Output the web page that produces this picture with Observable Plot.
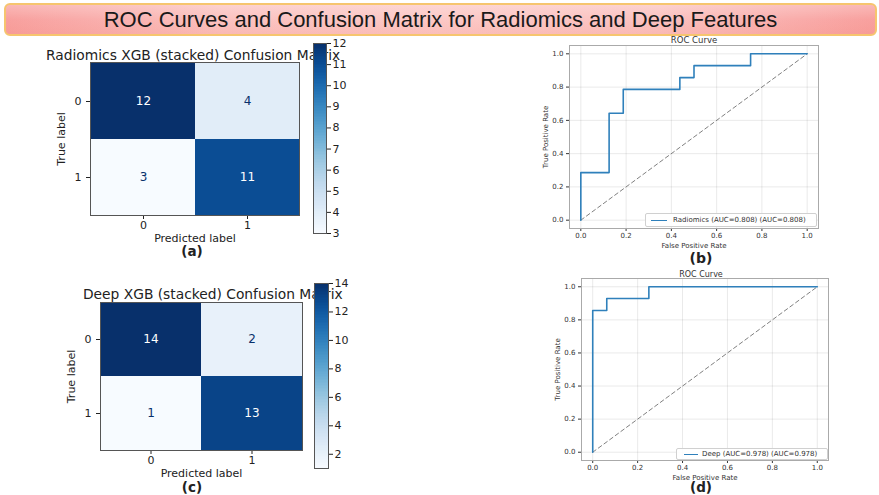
<!DOCTYPE html>
<html>
<head>
<meta charset="utf-8">
<script src="https://cdn.jsdelivr.net/npm/d3@7"></script>
<script src="https://cdn.jsdelivr.net/npm/@observablehq/plot@0.6"></script>
<style>
  html, body { margin: 0; padding: 0; }
  body { width: 879px; height: 495px; background: #fff; position: relative; overflow: hidden; font-family: "DejaVu Sans", sans-serif; color: #222; }
  .abs { position: absolute; }
  #banner { left: 4px; top: 3px; width: 869px; height: 29px; border: 2px solid #f6c56e; border-radius: 6px;
            background: linear-gradient(to bottom, rgba(255,255,255,0.25), rgba(255,255,255,0) 50%, rgba(240,120,100,0.12)),
                        linear-gradient(to right, #f8a09e 0%, #fbc2c0 25%, #fcc8c6 50%, #fbc2c0 75%, #f8a09e 100%);
            font-family: "Liberation Sans", Arial, sans-serif; font-size: 22px; line-height: 29px; text-align: center; color: #1a1a1a; }
  .ctr { transform: translate(-50%, -50%); white-space: nowrap; }
  .tl { white-space: nowrap; }
  .lg { border: 1px solid #d0d0d0; border-radius: 2px; background: rgba(255,255,255,0.9); box-sizing: border-box; }
  .lg span.ln { position: absolute; height: 0; border-top: 1.6px solid #2f80bb; }
  .lg span.tx { position: absolute; font-size: 7px; color: #333; white-space: nowrap; }
</style>
</head>
<body>
<div id="banner" class="abs">ROC Curves and Confusion Matrix for Radiomics and Deep Features</div>
<script>
// ---------------- data ----------------
const classLabels = ["0", "1"];
const radiomicsMatrix = [[12, 4], [3, 11]];
const deepMatrix = [[14, 2], [1, 13]];
const radiomicsBarTicks = [3, 4, 5, 6, 7, 8, 9, 10, 11, 12];
const deepBarTicks = [2, 4, 6, 8, 10, 12, 14];

const radiomicsFPR = [0, 0, 0.125, 0.125, 0.1875, 0.1875, 0.4375, 0.4375, 0.5, 0.5, 0.75, 0.75, 1];
const radiomicsTPR = [0, 0.286, 0.286, 0.643, 0.643, 0.786, 0.786, 0.857, 0.857, 0.929, 0.929, 1, 1];
const deepFPR = [0, 0, 0.0625, 0.0625, 0.25, 0.25, 1];
const deepTPR = [0, 0.857, 0.857, 0.929, 0.929, 1, 1];
const chanceLine = [0, 1];
const rocTicks = [0, 0.2, 0.4, 0.6, 0.8, 1.0];
const radiomicsLegend = "Radiomics (AUC=0.808) (AUC=0.808)";
const deepLegend = "Deep (AUC=0.978) (AUC=0.978)";

// ---------------- helpers ----------------
function place(node, left, top) {
  const d = document.createElement("div");
  d.className = "abs";
  d.style.left = left + "px";
  d.style.top = top + "px";
  d.appendChild(node);
  document.body.appendChild(d);
  return d;
}
function textAt(txt, x, y, css, cls = "ctr") {
  const d = document.createElement("div");
  d.className = "abs " + cls;
  d.textContent = txt;
  d.style.left = x + "px";
  d.style.top = y + "px";
  Object.assign(d.style, css || {});
  document.body.appendChild(d);
  return d;
}
const baseStyle = { fontFamily: "DejaVu Sans", background: "transparent", color: "#222", overflow: "visible" };

function confusionMatrix(matrix, g) {
  const cells = matrix.flatMap((row, i) => row.map((v, j) => ({ t: classLabels[i], p: classLabels[j], v })));
  const lo = d3.min(cells, d => d.v), hi = d3.max(cells, d => d.v);
  const thr = (lo + hi) / 2;
  return Plot.plot({
    width: g.width, height: g.height,
    marginLeft: g.ml, marginRight: g.mr, marginTop: g.mt, marginBottom: g.mb,
    style: { ...baseStyle, fontSize: "11px" },
    x: { domain: classLabels, padding: 0, label: "Predicted label", labelAnchor: "center", labelOffset: 26, tickSize: 4, tickPadding: 2, labelArrow: "none" },
    y: { domain: classLabels, padding: 0, label: "True label", labelAnchor: "center", labelOffset: 33, tickSize: 4, tickPadding: 5, labelArrow: "none" },
    color: { type: "linear", scheme: "blues", domain: [lo, hi] },
    marks: [
      Plot.cell(cells, { x: "p", y: "t", fill: "v", inset: 0 }),
      Plot.text(cells.filter(d => d.v > thr), { x: "p", y: "t", text: d => String(d.v), fill: "white", fontSize: 12 }),
      Plot.text(cells.filter(d => d.v <= thr), { x: "p", y: "t", text: d => String(d.v), fill: "#08306b", fontSize: 12 }),
      Plot.frame({ stroke: "#555" })
    ]
  });
}

function colorBar(matrix, ticks, g) {
  const vals = matrix.flat();
  const lo = d3.min(vals), hi = d3.max(vals);
  const n = 120;
  const step = (hi - lo) / n;
  const strips = d3.range(n).map(i => lo + i * step);
  return Plot.plot({
    width: g.width, height: g.height,
    marginLeft: g.ml, marginRight: g.mr, marginTop: g.mt, marginBottom: g.mb,
    style: { ...baseStyle, fontSize: "11px" },
    x: { axis: null },
    y: { domain: [lo, hi], axis: "right", ticks: ticks, tickFormat: d => String(d), tickSize: 4, tickPadding: 2, label: null },
    color: { type: "linear", scheme: "blues", domain: [lo, hi] },
    marks: [
      Plot.rect(strips, { y1: d => d, y2: d => Math.min(hi, d + step * 1.6), fill: d => d + step / 2, shapeRendering: "crispEdges" }),
      Plot.frame({ stroke: "#555" })
    ]
  });
}

function rocPlot(fpr, tpr, g) {
  const pts = fpr.map((x, i) => ({ x, y: tpr[i] }));
  const diag = chanceLine.map(v => ({ x: v, y: v }));
  return Plot.plot({
    width: g.width, height: g.height,
    marginLeft: g.ml, marginRight: g.mr, marginTop: g.mt, marginBottom: g.mb,
    style: { ...baseStyle, fontSize: "7px", color: "#333" },
    x: { domain: [-0.05, 1.05], ticks: rocTicks, tickFormat: ".1f", tickSize: 3, tickPadding: 2, grid: true,
         label: "False Positive Rate", labelAnchor: "center", labelOffset: 19, labelArrow: "none" },
    y: { domain: [-0.05, 1.05], ticks: rocTicks, tickFormat: ".1f", tickSize: 3, tickPadding: 3, grid: true,
         label: "True Positive Rate", labelAnchor: "center", labelOffset: 26, labelArrow: "none" },
    marks: [
      Plot.frame({ stroke: "#aaa" }),
      Plot.line(diag, { x: "x", y: "y", stroke: "#808080", strokeWidth: 1, strokeDasharray: "4,3" }),
      Plot.line(pts, { x: "x", y: "y", stroke: "#2f80bb", strokeWidth: 1.6 })
    ]
  });
}

function legend(txt, box) {
  const d = document.createElement("div");
  d.className = "abs lg";
  d.style.left = box.x + "px"; d.style.top = box.y + "px";
  d.style.width = box.w + "px"; d.style.height = box.h + "px";
  const ln = document.createElement("span");
  ln.className = "ln";
  ln.style.left = box.lx + "px"; ln.style.width = box.lw + "px"; ln.style.top = (box.h / 2 - 1.5) + "px";
  const tx = document.createElement("span");
  tx.className = "tx";
  tx.textContent = txt;
  tx.style.left = box.tx + "px"; tx.style.top = (box.h / 2 - 5.5) + "px";
  d.appendChild(ln); d.appendChild(tx);
  document.body.appendChild(d);
}

// ---------------- panel (a) ----------------
textAt("Radiomics XGB (stacked) Confusion Matrix", 46, 47, { fontSize: "13.8px" }, "tl");
place(confusionMatrix(radiomicsMatrix, { width: 275, height: 215, ml: 60, mr: 6, mt: 22, mb: 40 }), 30, 40);
place(colorBar(radiomicsMatrix, radiomicsBarTicks, { width: 50, height: 205, ml: 8, mr: 29, mt: 8, mb: 7 }), 305, 35);
textAt("(a)", 192, 251, { fontSize: "13.5px", fontWeight: "bold" });

// ---------------- panel (c) ----------------
textAt("Deep XGB (stacked) Confusion Matrix", 83, 286, { fontSize: "13.8px" }, "tl");
place(confusionMatrix(deepMatrix, { width: 278, height: 210, ml: 70, mr: 6, mt: 22, mb: 40 }), 30, 280);
place(colorBar(deepMatrix, deepBarTicks, { width: 50, height: 200, ml: 8, mr: 28, mt: 8, mb: 7 }), 306, 275);
textAt("(c)", 192, 487, { fontSize: "13.5px", fontWeight: "bold" });

// ---------------- panel (b) ----------------
textAt("ROC Curve", 694, 40, { fontSize: "8.5px", color: "#333" });
place(rocPlot(radiomicsFPR, radiomicsTPR, { width: 292, height: 225, ml: 39, mr: 4, mt: 15, mb: 27 }), 530, 30);
legend(radiomicsLegend, { x: 645, y: 213, w: 172, h: 14, lx: 5, lw: 16, tx: 27 });
textAt("(b)", 701, 258, { fontSize: "14px", fontWeight: "bold" });

// ---------------- panel (d) ----------------
textAt("ROC Curve", 701, 274, { fontSize: "8px", color: "#333" });
place(rocPlot(deepFPR, deepTPR, { width: 302, height: 225, ml: 51, mr: 4, mt: 16, mb: 27 }), 530, 262);
legend(deepLegend, { x: 676, y: 448, w: 152, h: 12, lx: 7, lw: 14, tx: 25 });
textAt("(d)", 701, 487, { fontSize: "13.5px", fontWeight: "bold" });
</script>
</body>
</html>
